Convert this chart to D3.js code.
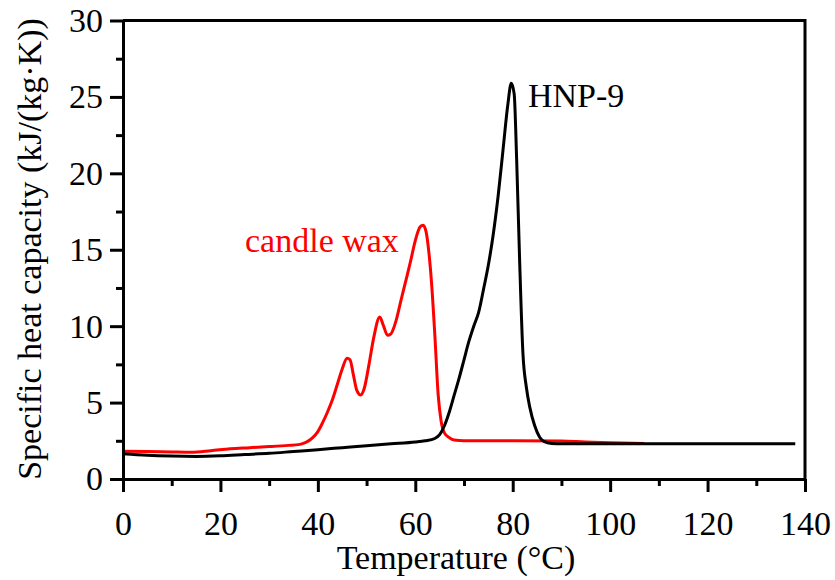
<!DOCTYPE html>
<html lang="en">
  <head>
    <meta charset="UTF-8"/>
    <title>Specific heat capacity</title>
    <script src="https://d3js.org/d3.v7.min.js"></script>
    <style>
      body { margin: 0; background: #fff; }
      .axis path,
      .axis line {
        fill: none;
        stroke: #000;
        stroke-width: 3px;
      }
    </style>
  </head>
  <body>
    <script type="text/javascript">

        // HNP-9 curve (temperature in °C, cp in kJ/(kg·K))
        const hnpTemp = [0, 5, 10, 15, 20, 25, 30, 35, 40, 45, 50, 55, 60, 62, 64, 65, 66, 67, 68, 69, 70,
                         71, 72, 73, 74, 75, 76, 77, 78, 79, 79.7, 80.3, 80.8, 81.4, 82.1, 82.8, 83.5,
                         84.5, 85.5, 86.5, 88, 90, 100, 110, 120, 130, 138]
        const hnpCp   = [1.65, 1.55, 1.5, 1.48, 1.52, 1.6, 1.68, 1.8, 1.92, 2.05, 2.18, 2.3, 2.42, 2.5, 2.65, 2.9, 3.5, 4.4, 5.5, 6.6, 7.8,
                         9.0, 10.0, 10.9, 12.4, 14.0, 16.0, 18.5, 21.5, 24.5, 25.9, 25.2, 21.0, 14.5, 8.2, 6.0, 4.7,
                         3.5, 2.75, 2.45, 2.33, 2.3, 2.3, 2.3, 2.3, 2.3, 2.3]

        // candle wax curve
        const waxTemp = [0, 5, 10, 14, 18, 22, 26, 30, 34, 36, 37, 38, 39, 40, 41, 42, 43, 44, 45, 46, 46.6,
                         47.3, 48, 48.8, 49.5, 50.5, 51.5, 52.7, 53.5, 54.3, 55, 56, 57, 58, 59, 60, 61,
                         61.6, 62.2, 62.8, 63.3, 64, 64.7, 65.3, 66, 67, 68, 70, 80, 90, 93, 95, 100, 107]
        const waxCp   = [1.82, 1.8, 1.77, 1.75, 1.85, 1.98, 2.05, 2.12, 2.2, 2.25, 2.33, 2.48, 2.72, 3.1, 3.7, 4.4, 5.2, 6.2, 7.2, 7.9, 7.8,
                         6.8, 5.8, 5.5, 5.9, 7.5, 9.3, 10.6, 10.0, 9.4, 9.5, 10.3, 11.6, 12.9, 14.2, 15.6, 16.5,
                         16.6, 16.2, 14.8, 13.0, 9.5, 5.5, 3.8, 3.0, 2.7, 2.55, 2.5, 2.5, 2.48, 2.45, 2.42, 2.38, 2.32]

        const xTicks = [0, 20, 40, 60, 80, 100, 120, 140]
        const xMinor = [10, 30, 50, 70, 90, 110, 130]
        const yTicks = [0, 5, 10, 15, 20, 25, 30]
        const yMinor = [2.5, 7.5, 12.5, 17.5, 22.5, 27.5]

        const fontFamily = "'Liberation Serif'"
        const fontSize = "34px"

        const outerWidth = 835,
              outerHeight = 580,
              margin = ({top: 20.5, right: 30, bottom: 101, left: 123}),
              width  = outerWidth - margin.left - margin.right,
              height = outerHeight - margin.top - margin.bottom

        const svg = d3.select("body").append("svg")
            .attr("width", outerWidth)
            .attr("height", outerHeight)

        const g = svg.append("g")
            .attr("transform", `translate(${margin.left},${margin.top})`)

        const xScale = d3.scaleLinear().domain([0, 140]).range([0, width])
        const yScale = d3.scaleLinear().domain([0, 30]).range([height, 0])

        const line = d3.line()
            .x(d => xScale(d[0]))
            .y(d => yScale(d[1]))
            .curve(d3.curveMonotoneX)

        const wax = waxTemp.map((t, i) => [t, waxCp[i]])
        const hnp = hnpTemp.map((t, i) => [t, hnpCp[i]])

        g.append("path")
            .datum(wax)
            .attr("fill", "none")
            .attr("stroke", "#ff0000")
            .attr("stroke-width", 3)
            .attr("d", line)

        g.append("path")
            .datum(hnp)
            .attr("fill", "none")
            .attr("stroke", "#000")
            .attr("stroke-width", 3)
            .attr("d", line)

        // frame top and right
        g.append("path")
            .attr("fill", "none")
            .attr("stroke", "#000")
            .attr("stroke-width", 3)
            .attr("d", `M0,0H${width}V${height}`)

        // minor ticks
        g.append("g")
            .attr("class", "axis")
            .attr("transform", `translate(0,${height})`)
            .call(d3.axisBottom(xScale).tickValues(xMinor).tickSize(7).tickFormat(""))
            .call(g => g.select(".domain").remove())
        g.append("g")
            .attr("class", "axis")
            .call(d3.axisLeft(yScale).tickValues(yMinor).tickSize(7).tickFormat(""))
            .call(g => g.select(".domain").remove())

        // major axes
        g.append("g")
            .attr("class", "axis")
            .attr("transform", `translate(0,${height})`)
            .call(d3.axisBottom(xScale).tickValues(xTicks).tickSize(13).tickSizeOuter(0).tickPadding(19))
        g.append("g")
            .attr("class", "axis")
            .call(d3.axisLeft(yScale).tickValues(yTicks).tickSize(13).tickSizeOuter(0).tickPadding(7))

        // axis titles
        svg.append("text")
            .attr("x", 456)
            .attr("y", 569)
            .attr("text-anchor", "middle")
            .text("Temperature (°C)")

        svg.append("text")
            .attr("transform", "translate(41,249) rotate(-90)")
            .attr("text-anchor", "middle")
            .text("Specific heat capacity (kJ/(kg·K))")

        // series labels
        g.append("text")
            .attr("x", 528 - margin.left)
            .attr("y", 107 - margin.top)
            .attr("fill", "#000")
            .text("HNP-9")

        g.append("text")
            .attr("x", 245 - margin.left)
            .attr("y", 252 - margin.top)
            .attr("fill", "#ff0000")
            .text("candle wax")

        svg.selectAll("text")
            .style("font-family", fontFamily)
            .style("font-size", fontSize)
            .style("fill", function() { return d3.select(this).attr("fill") || "#000" })

    </script>
  </body>
</html>
